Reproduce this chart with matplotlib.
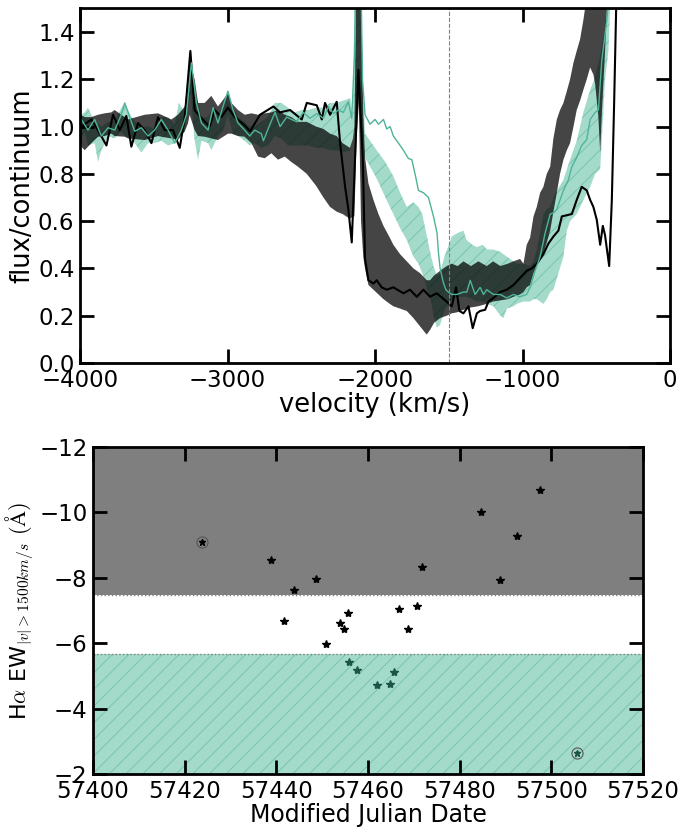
import numpy as np
import matplotlib
matplotlib.use("Agg")
import matplotlib.pyplot as plt

plt.rcParams['font.family'] = ['DejaVu Sans']
plt.rcParams['mathtext.fontset'] = 'cm'
plt.rcParams['hatch.linewidth'] = 0.6

teal = '#66c2a5'

# ---- top panel: spectra ----
black_v = [-4000, -3991, -3923, -3878, -3821, -3776, -3731, -3686, -3652, -3607, -3562, -3516,
           -3471, -3426, -3370, -3324, -3290, -3252, -3223, -3177, -3121, -3087, -3042, -2997,
           -2951, -2884, -2847, -2780, -2689, -2644, -2576, -2497, -2463, -2395, -2361, -2339,
           -2305, -2260, -2237, -2203, -2181, -2158, -2136, -2113, -2083, -2068, -2045, -2011,
           -1989, -1955, -1921, -1876, -1808, -1763, -1717, -1672, -1627, -1582, -1525, -1480,
           -1451, -1428, -1401, -1367, -1338, -1310, -1288, -1254, -1231, -1198, -1152, -1107,
           -1062, -1017, -972, -938, -904, -859, -825, -791, -757, -734, -700, -666, -633, -599,
           -565, -542, -520, -497, -474, -456, -441, -413, -395, -379, -366, -355]
black_f = [1.00, 1.00, 1.03, 0.985, 0.92, 1.05, 0.985, 1.045, 0.915, 1.015, 0.985, 0.93,
           1.04, 0.985, 0.985, 0.91, 1.04, 1.32, 1.07, 1.035, 1.00, 1.07, 1.04, 1.08,
           1.04, 1.005, 0.98, 1.05, 1.085, 1.06, 1.07, 1.03, 1.10, 1.09, 1.03, 1.10,
           1.05, 1.105, 0.93, 0.745, 0.65, 0.51, 0.86, 1.24, 0.86, 0.44, 0.35, 0.336,
           0.35, 0.32, 0.31, 0.32, 0.295, 0.31, 0.28, 0.31, 0.28, 0.295, 0.265, 0.24,
           0.32, 0.22, 0.21, 0.24, 0.147, 0.21, 0.22, 0.225, 0.26, 0.275, 0.30, 0.31,
           0.33, 0.36, 0.39, 0.40, 0.42, 0.46, 0.505, 0.535, 0.56, 0.62, 0.625, 0.63, 0.69, 0.745,
           0.73, 0.69, 0.66, 0.605, 0.50, 0.58, 0.54, 0.41, 0.69, 1.11, 1.49, 1.70]

tealline_v = [-4000, -3991, -3946, -3901, -3855, -3810, -3765, -3720, -3697, -3663, -3629, -3584,
              -3539, -3494, -3449, -3403, -3358, -3313, -3279, -3245, -3211, -3177, -3132, -3098,
              -3065, -3031, -2997, -2963, -2929, -2884, -2850, -2816, -2771, -2757, -2712, -2678,
              -2644, -2599, -2531, -2486, -2441, -2395, -2350, -2316, -2282, -2248, -2215, -2181,
              -2158, -2140, -2125, -2100, -2085, -2068, -2034, -2000, -1977, -1943, -1921, -1898,
              -1876, -1853, -1830, -1808, -1774, -1751, -1729, -1706, -1672, -1638, -1604, -1580,
              -1570, -1559, -1537, -1520, -1503, -1480, -1446, -1400, -1378, -1355, -1322, -1288,
              -1265, -1243, -1198, -1152, -1107, -1062, -1017, -972, -949, -915, -881, -847,
              -813, -790, -768, -723, -689, -666, -633, -599, -565, -542, -508, -486, -463,
              -429, -407]
tealline_f = [1.01, 1.03, 0.985, 1.03, 0.96, 0.995, 0.985, 1.05, 1.10, 1.04, 0.98, 0.995,
              0.96, 0.985, 1.03, 0.985, 0.93, 0.985, 1.05, 1.27, 1.10, 1.015, 0.985, 1.08,
              1.015, 1.085, 1.15, 1.07, 1.015, 0.985, 0.96, 0.985, 0.97, 0.94, 1.01, 1.06,
              1.00, 1.04, 1.02, 1.06, 1.035, 1.055, 1.035, 1.085, 1.055, 1.07, 1.06, 1.105,
              1.035, 1.30, 1.80, 1.80, 1.20, 1.05, 1.01, 1.03, 1.01, 1.03, 0.99, 1.00,
              0.96, 0.94, 0.92, 0.90, 0.865, 0.86, 0.80, 0.73, 0.72, 0.70, 0.62, 0.55,
              0.465, 0.40, 0.34, 0.31, 0.30, 0.29, 0.29, 0.30, 0.30, 0.35, 0.29, 0.32,
              0.29, 0.31, 0.29, 0.29, 0.275, 0.29, 0.28, 0.29, 0.32, 0.39, 0.45, 0.55,
              0.63, 0.635, 0.65, 0.73, 0.775, 0.83, 0.87, 0.92, 0.945, 1.03, 1.06, 1.07, 1.28,
              1.45, 1.60]

dark_v = [-4000, -3968, -3923, -3878, -3833, -3788, -3765, -3697, -3675, -3562, -3471, -3449,
          -3381, -3336, -3290, -3268, -3257, -3223, -3200, -3155, -3110, -3065, -2997, -2974,
          -2929, -2884, -2838, -2793, -2748, -2703, -2658, -2612, -2567, -2522, -2463, -2400,
          -2350, -2305, -2260, -2220, -2170, -2150, -2140, -2125, -2110, -2095, -2080, -2068,
          -2045, -2011, -1977, -1943, -1900, -1876, -1830, -1785, -1740, -1695, -1650, -1627,
          -1600, -1559, -1514, -1480, -1440, -1401, -1350, -1300, -1243, -1200, -1150, -1100,
          -1062, -1017, -994, -972, -949, -926, -904, -881, -859, -836, -813, -791, -768,
          -746, -723, -700, -678, -655, -633, -610, -588, -565, -542, -520, -508, -486,
          -474, -463, -441, -429, -420]
dark_lo = [0.92, 0.90, 0.93, 0.957, 0.96, 0.97, 0.96, 0.957, 0.95, 0.943, 0.96, 0.957,
           0.95, 0.943, 0.98, 1.014, 1.05, 0.985, 0.96, 0.957, 0.95, 0.943, 0.97, 0.97,
           0.96, 0.957, 0.93, 0.873, 0.866, 0.887, 0.86, 0.873, 0.85, 0.83, 0.80, 0.75,
           0.70, 0.66, 0.64, 0.63, 0.61, 0.62, 0.62, 0.95, 1.10, 0.60, 0.45, 0.40,
           0.33, 0.31, 0.29, 0.27, 0.25, 0.24, 0.23, 0.22, 0.19, 0.155, 0.12, 0.14,
           0.17, 0.19, 0.20, 0.21, 0.215, 0.225, 0.235, 0.24, 0.25, 0.26, 0.265, 0.27,
           0.28, 0.29, 0.30, 0.32, 0.33, 0.38, 0.41, 0.435, 0.46, 0.51, 0.56, 0.64, 0.72,
           0.80, 0.86, 0.90, 0.93, 1.00, 1.07, 1.11, 1.155, 1.20, 1.25, 1.22, 1.18, 1.04,
           0.89, 1.05, 1.32, 1.50, 1.70]
dark_hi = [1.05, 1.04, 1.04, 1.05, 1.056, 1.06, 1.07, 1.04, 1.03, 1.05, 1.056, 1.05,
           1.03, 1.05, 1.085, 1.20, 1.28, 1.20, 1.10, 1.10, 1.13, 1.085, 1.14, 1.10,
           1.07, 1.05, 1.056, 1.05, 1.056, 1.06, 1.07, 1.05, 1.04, 1.02, 1.02, 1.00,
           0.99, 0.97, 0.96, 0.93, 0.91, 0.95, 1.00, 1.70, 1.70, 1.60, 1.05, 0.87,
           0.76, 0.69, 0.63, 0.58, 0.53, 0.50, 0.46, 0.43, 0.40, 0.38, 0.35, 0.35,
           0.37, 0.39, 0.41, 0.42, 0.41, 0.43, 0.41, 0.43, 0.41, 0.43, 0.41, 0.42,
           0.43, 0.44, 0.42, 0.50, 0.53, 0.62, 0.66, 0.72, 0.745, 0.80, 0.83, 0.95, 1.03,
           1.07, 1.10, 1.15, 1.20, 1.27, 1.32, 1.37, 1.45, 1.55, 1.70, 1.70, 1.70, 1.70,
           1.70, 1.70, 1.70, 1.70, 1.70]

tband_v = [-4000, -3991, -3968, -3946, -3900, -3878, -3855, -3810, -3765, -3720, -3697, -3650,
           -3629, -3584, -3539, -3494, -3449, -3403, -3358, -3330, -3290, -3250, -3225, -3200,
           -3177, -3132, -3110, -3065, -3031, -2997, -2963, -2929, -2884, -2850, -2816, -2771,
           -2726, -2680, -2635, -2590, -2545, -2499, -2454, -2400, -2350, -2305, -2260, -2215,
           -2170, -2150, -2135, -2120, -2100, -2085, -2068, -1989, -1930, -1876, -1830, -1785,
           -1740, -1706, -1680, -1650, -1620, -1604, -1582, -1560, -1530, -1500, -1480, -1440,
           -1401, -1380, -1340, -1310, -1270, -1240, -1198, -1150, -1130, -1107, -1062, -1039,
           -994, -949, -926, -904, -881, -859, -836, -813, -791, -757, -723, -700, -678,
           -633, -588, -542, -508, -474, -452, -441, -418, -400]
tband_lo = [0.95, 0.95, 0.98, 0.92, 0.93, 0.85, 0.90, 0.96, 0.95, 0.98, 0.96, 0.95,
            0.93, 0.89, 0.93, 0.93, 0.94, 0.92, 0.93, 0.96, 0.98, 1.15, 0.95, 0.86,
            0.94, 0.93, 0.90, 0.96, 0.98, 1.05, 0.97, 0.96, 0.94, 0.92, 0.93, 0.91,
            0.92, 0.96, 0.95, 0.92, 0.92, 0.92, 0.92, 0.91, 0.91, 0.90, 0.90, 0.89,
            0.90, 0.95, 1.00, 1.20, 1.00, 0.90, 0.87, 0.78, 0.70, 0.63, 0.57, 0.52,
            0.45, 0.42, 0.38, 0.32, 0.26, 0.20, 0.15, 0.16, 0.22, 0.25, 0.27, 0.28,
            0.28, 0.28, 0.27, 0.26, 0.26, 0.25, 0.24, 0.20, 0.19, 0.23, 0.24, 0.25,
            0.26, 0.26, 0.27, 0.27, 0.26, 0.25, 0.27, 0.30, 0.31, 0.38, 0.45, 0.56, 0.60,
            0.63, 0.69, 0.745, 0.80, 0.82, 1.07, 1.20, 1.32, 1.60]
tband_hi = [1.05, 1.05, 1.06, 1.08, 1.02, 1.01, 1.00, 1.02, 1.02, 1.08, 1.10, 1.04,
            1.02, 1.00, 1.00, 0.99, 1.04, 1.04, 1.01, 1.10, 1.06, 1.26, 1.16, 1.10,
            1.04, 1.04, 1.07, 1.05, 1.09, 1.15, 1.08, 1.04, 1.02, 1.00, 1.00, 1.02,
            1.04, 1.10, 1.10, 1.08, 1.06, 1.07, 1.07, 1.08, 1.08, 1.10, 1.10, 1.11,
            1.12, 1.05, 1.70, 1.80, 1.70, 1.20, 0.97, 0.90, 0.85, 0.79, 0.72, 0.66,
            0.68, 0.66, 0.63, 0.54, 0.45, 0.41, 0.37, 0.38, 0.45, 0.50, 0.535, 0.55,
            0.56, 0.52, 0.50, 0.49, 0.50, 0.48, 0.48, 0.47, 0.46, 0.45, 0.43, 0.42,
            0.42, 0.41, 0.43, 0.48, 0.55, 0.63, 0.65, 0.66, 0.70, 0.74, 0.775, 0.82, 0.86,
            0.94, 1.06, 1.155, 1.21, 1.30, 1.38, 1.42, 1.60, 1.70]

v_cut = -1500

# ---- bottom panel: equivalent widths ----
mjd_black = [57438.9, 57443.8, 57448.7, 57441.7, 57450.8, 57453.9, 57454.7, 57455.7, 57466.7,
             57468.7, 57470.7, 57471.7, 57484.7, 57488.7, 57492.6, 57497.6]
ew_black = [-8.54, -7.63, -7.97, -6.67, -5.98, -6.63, -6.42, -6.93, -7.06,
            -6.44, -7.14, -8.32, -10.01, -7.94, -9.29, -10.67]
mjd_teal = [57455.8, 57457.7, 57461.9, 57464.9, 57465.7]
ew_teal = [-5.41, -5.19, -4.73, -4.76, -5.11]
mjd_ref = [57423.7, 57505.7]
ew_ref = [-9.11, -2.64]
ew_upper = -7.48
ew_lower = -5.68

hatch_col = '#55b199'

fig = plt.figure(figsize=(6.81, 8.36), dpi=100)
ax1 = fig.add_axes([0.1175, 0.5658, 0.8665, 0.4242])
ax2 = fig.add_axes([0.1366, 0.0742, 0.8076, 0.3911])

ax1.fill_between(tband_v, tband_lo, tband_hi, facecolor=teal, edgecolor=hatch_col,
                 alpha=0.6, hatch='//', linewidth=0)
ax1.fill_between(dark_v, dark_lo, dark_hi, facecolor='k', alpha=0.73, linewidth=0)
ax1.plot(black_v, black_f, color='k', lw=1.5)
ax1.plot(tealline_v, tealline_f, color='#4fb39a', lw=1.0)
ax1.axvline(v_cut, color='gray', ls='--', lw=0.8)
ax1.set_xlim(-4000, 0)
ax1.set_ylim(0, 1.5)
ax1.set_yticks(np.arange(0, 1.41, 0.2))
ax1.set_xticks([-4000, -3000, -2000, -1000, 0])
ax1.set_xlabel('velocity (km/s)', fontsize=18.5, labelpad=0)
ax1.set_ylabel('flux/continuum', fontsize=18.5, labelpad=2)

ax2.axhspan(-12, ew_upper, facecolor='k', alpha=0.5, linewidth=0)
ax2.axhspan(ew_lower, -2, facecolor=teal, edgecolor=hatch_col, alpha=0.6, hatch='//',
            linewidth=0)
ax2.axhline(ew_upper, color='gray', ls=':', lw=1)
ax2.axhline(ew_lower, color='gray', ls=':', lw=1)
ax2.plot(mjd_ref, ew_ref, 'o', mfc='none', mec='#555555', mew=0.8, ms=8)
ax2.plot(mjd_black, ew_black, '*', color='k', ms=6)
ax2.plot(mjd_teal, ew_teal, '*', color='#1d5448', ms=6)
ax2.plot(mjd_ref[:1], ew_ref[:1], '*', color='k', ms=5)
ax2.plot(mjd_ref[1:], ew_ref[1:], '*', color='#1d5448', ms=5)
ax2.set_xlim(57400, 57520)
ax2.set_ylim(-2, -12)
ax2.set_yticks([-12, -10, -8, -6, -4, -2])
ax2.set_xlabel('Modified Julian Date', fontsize=17, labelpad=0)
ax2.set_ylabel(r'H$\alpha$ EW$_{|v|>1500km/s}$ $(\mathrm{\AA})$', fontsize=16, labelpad=2)

for ax in (ax1, ax2):
    ax.tick_params(direction='in', length=10, width=2, top=True, right=True,
                   labelsize=16.5, pad=4)
    for s in ax.spines.values():
        s.set_linewidth(2)

fig.savefig('out.png', dpi=100)
